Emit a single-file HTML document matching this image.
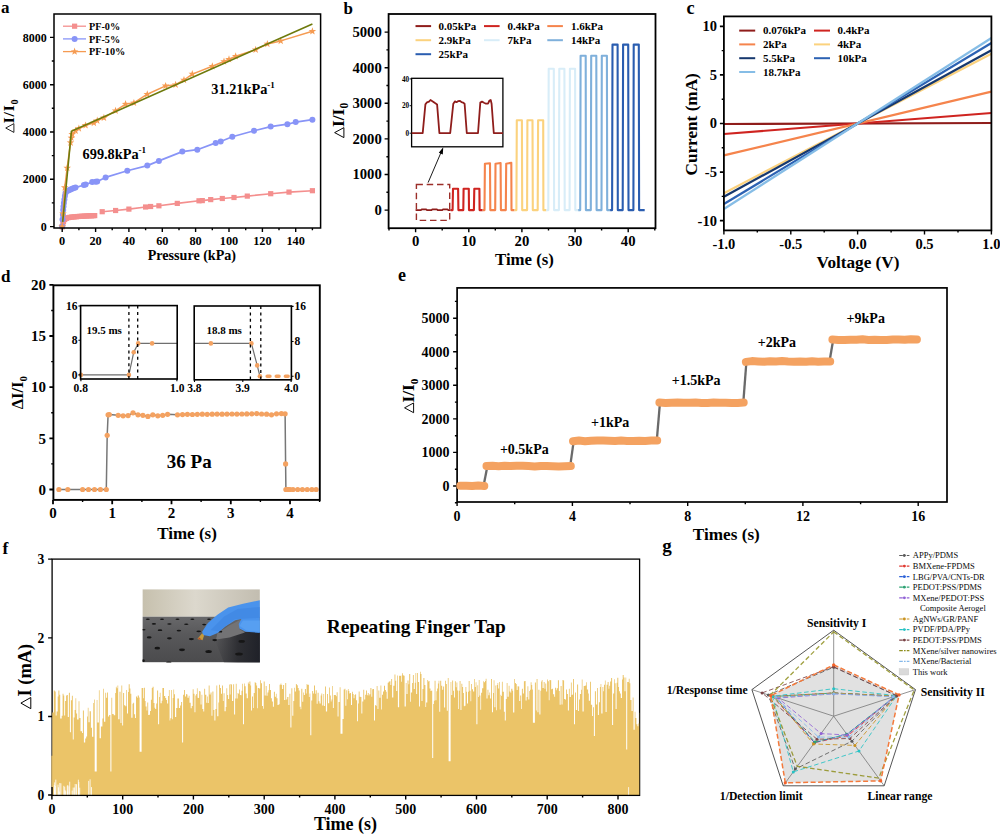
<!DOCTYPE html>
<html><head><meta charset="utf-8"><title>Figure</title><style>html,body{margin:0;padding:0;background:#fff;font-family:"Liberation Serif",serif}svg{display:block}</style></head><body>
<svg width="1000" height="835" viewBox="0 0 1000 835" font-family="Liberation Serif, serif">
<rect width="1000" height="835" fill="#fff"/>
<text x="1.0" y="12.5" font-size="17" font-weight="bold" text-anchor="start" fill="#000" >a</text>
<path d="M62.2 226.6L62.9 223.8L63.5 221.4L64.7 219.5L66.4 218.3L68.0 217.7L69.7 217.4L71.4 217.1L73.0 217.0L74.7 216.8L76.4 216.7L78.0 216.5L79.7 216.4L81.4 216.3L83.0 216.2L84.7 216.1L86.4 216.0L88.1 215.9L89.7 215.8L91.4 215.8L93.1 215.7L94.7 215.6" stroke="#f48f8e" stroke-width="1.6" fill="none" stroke-linejoin="round" />
<path d="M102.2 211.7L115.6 210.5L128.9 209.1L145.6 207.0L150.6 206.5L158.9 205.8L177.3 203.4L199.0 200.8L202.3 200.6L210.7 199.6L222.3 198.5L234.0 197.5L247.3 196.1L270.7 193.7L289.0 192.1L312.4 190.7" stroke="#f48f8e" stroke-width="1.6" fill="none" stroke-linejoin="round" />
<rect x="59.6" y="224.0" width="5.2" height="5.2" fill="#f48f8e"/>
<rect x="60.3" y="221.2" width="5.2" height="5.2" fill="#f48f8e"/>
<rect x="60.9" y="218.8" width="5.2" height="5.2" fill="#f48f8e"/>
<rect x="62.1" y="216.9" width="5.2" height="5.2" fill="#f48f8e"/>
<rect x="63.8" y="215.7" width="5.2" height="5.2" fill="#f48f8e"/>
<rect x="65.4" y="215.1" width="5.2" height="5.2" fill="#f48f8e"/>
<rect x="67.1" y="214.8" width="5.2" height="5.2" fill="#f48f8e"/>
<rect x="68.8" y="214.5" width="5.2" height="5.2" fill="#f48f8e"/>
<rect x="70.4" y="214.4" width="5.2" height="5.2" fill="#f48f8e"/>
<rect x="72.1" y="214.2" width="5.2" height="5.2" fill="#f48f8e"/>
<rect x="73.8" y="214.1" width="5.2" height="5.2" fill="#f48f8e"/>
<rect x="75.4" y="213.9" width="5.2" height="5.2" fill="#f48f8e"/>
<rect x="77.1" y="213.8" width="5.2" height="5.2" fill="#f48f8e"/>
<rect x="78.8" y="213.7" width="5.2" height="5.2" fill="#f48f8e"/>
<rect x="80.5" y="213.6" width="5.2" height="5.2" fill="#f48f8e"/>
<rect x="82.1" y="213.5" width="5.2" height="5.2" fill="#f48f8e"/>
<rect x="83.8" y="213.4" width="5.2" height="5.2" fill="#f48f8e"/>
<rect x="85.5" y="213.3" width="5.2" height="5.2" fill="#f48f8e"/>
<rect x="87.1" y="213.2" width="5.2" height="5.2" fill="#f48f8e"/>
<rect x="88.8" y="213.2" width="5.2" height="5.2" fill="#f48f8e"/>
<rect x="90.5" y="213.1" width="5.2" height="5.2" fill="#f48f8e"/>
<rect x="92.1" y="213.0" width="5.2" height="5.2" fill="#f48f8e"/>
<rect x="99.6" y="209.1" width="5.2" height="5.2" fill="#f48f8e"/>
<rect x="113.0" y="207.9" width="5.2" height="5.2" fill="#f48f8e"/>
<rect x="126.3" y="206.5" width="5.2" height="5.2" fill="#f48f8e"/>
<rect x="143.0" y="204.4" width="5.2" height="5.2" fill="#f48f8e"/>
<rect x="148.0" y="203.9" width="5.2" height="5.2" fill="#f48f8e"/>
<rect x="156.3" y="203.2" width="5.2" height="5.2" fill="#f48f8e"/>
<rect x="174.7" y="200.8" width="5.2" height="5.2" fill="#f48f8e"/>
<rect x="196.4" y="198.2" width="5.2" height="5.2" fill="#f48f8e"/>
<rect x="199.7" y="198.0" width="5.2" height="5.2" fill="#f48f8e"/>
<rect x="208.1" y="197.0" width="5.2" height="5.2" fill="#f48f8e"/>
<rect x="219.7" y="195.9" width="5.2" height="5.2" fill="#f48f8e"/>
<rect x="231.4" y="194.9" width="5.2" height="5.2" fill="#f48f8e"/>
<rect x="244.7" y="193.5" width="5.2" height="5.2" fill="#f48f8e"/>
<rect x="268.1" y="191.1" width="5.2" height="5.2" fill="#f48f8e"/>
<rect x="286.4" y="189.5" width="5.2" height="5.2" fill="#f48f8e"/>
<rect x="309.8" y="188.1" width="5.2" height="5.2" fill="#f48f8e"/>
<path d="M62.2 226.6L62.5 219.5L62.9 214.8L63.2 210.0L63.5 206.5L63.9 202.9L64.4 199.4L64.9 195.9L65.5 193.0L67.2 191.1L68.9 190.2L70.5 189.5L72.2 188.8L73.9 188.1L75.5 187.6L83.9 185.0L85.6 184.5L92.2 182.1L95.6 181.7L97.2 181.4L105.6 177.4L127.3 170.8L147.3 165.6L158.9 160.9L182.3 151.6L197.3 149.7L215.7 142.9L220.7 141.5L232.3 136.7L254.0 130.8L270.7 126.6L287.4 124.2L295.7 122.1L312.4 119.7" stroke="#8894f7" stroke-width="1.7" fill="none" stroke-linejoin="round" />
<circle cx="62.2" cy="226.6" r="3" fill="#8894f7"/>
<circle cx="62.5" cy="219.5" r="3" fill="#8894f7"/>
<circle cx="62.9" cy="214.8" r="3" fill="#8894f7"/>
<circle cx="63.2" cy="210.0" r="3" fill="#8894f7"/>
<circle cx="63.5" cy="206.5" r="3" fill="#8894f7"/>
<circle cx="63.9" cy="202.9" r="3" fill="#8894f7"/>
<circle cx="64.4" cy="199.4" r="3" fill="#8894f7"/>
<circle cx="64.9" cy="195.9" r="3" fill="#8894f7"/>
<circle cx="65.5" cy="193.0" r="3" fill="#8894f7"/>
<circle cx="67.2" cy="191.1" r="3" fill="#8894f7"/>
<circle cx="68.9" cy="190.2" r="3" fill="#8894f7"/>
<circle cx="70.5" cy="189.5" r="3" fill="#8894f7"/>
<circle cx="72.2" cy="188.8" r="3" fill="#8894f7"/>
<circle cx="73.9" cy="188.1" r="3" fill="#8894f7"/>
<circle cx="75.5" cy="187.6" r="3" fill="#8894f7"/>
<circle cx="83.9" cy="185.0" r="3" fill="#8894f7"/>
<circle cx="85.6" cy="184.5" r="3" fill="#8894f7"/>
<circle cx="92.2" cy="182.1" r="3" fill="#8894f7"/>
<circle cx="95.6" cy="181.7" r="3" fill="#8894f7"/>
<circle cx="97.2" cy="181.4" r="3" fill="#8894f7"/>
<circle cx="105.6" cy="177.4" r="3" fill="#8894f7"/>
<circle cx="127.3" cy="170.8" r="3" fill="#8894f7"/>
<circle cx="147.3" cy="165.6" r="3" fill="#8894f7"/>
<circle cx="158.9" cy="160.9" r="3" fill="#8894f7"/>
<circle cx="182.3" cy="151.6" r="3" fill="#8894f7"/>
<circle cx="197.3" cy="149.7" r="3" fill="#8894f7"/>
<circle cx="215.7" cy="142.9" r="3" fill="#8894f7"/>
<circle cx="220.7" cy="141.5" r="3" fill="#8894f7"/>
<circle cx="232.3" cy="136.7" r="3" fill="#8894f7"/>
<circle cx="254.0" cy="130.8" r="3" fill="#8894f7"/>
<circle cx="270.7" cy="126.6" r="3" fill="#8894f7"/>
<circle cx="287.4" cy="124.2" r="3" fill="#8894f7"/>
<circle cx="295.7" cy="122.1" r="3" fill="#8894f7"/>
<circle cx="312.4" cy="119.7" r="3" fill="#8894f7"/>
<path d="M62.2 226.6L63.0 213.6L64.7 187.6L67.2 167.9L70.5 142.6L71.4 137.9L72.2 134.4L75.5 130.8L78.9 128.5L85.6 125.4L93.9 123.0L97.2 120.6L103.9 117.8L115.6 110.7L125.6 104.1L133.9 102.9L147.3 94.2L165.6 85.9L175.6 84.7L184.0 80.0L192.3 74.1L212.3 66.3L224.0 61.5L229.0 59.2L235.7 56.3L255.7 49.7L267.4 44.0L280.7 40.9L312.4 31.3" stroke="#f59b52" stroke-width="1.5" fill="none" stroke-linejoin="round" />
<polygon points="62.2,222.6 63.1,225.3 66.0,225.4 63.7,227.1 64.6,229.8 62.2,228.2 59.8,229.8 60.7,227.1 58.4,225.4 61.3,225.3" fill="#f59b52"/>
<polygon points="63.0,209.6 64.0,212.3 66.8,212.4 64.6,214.1 65.4,216.8 63.0,215.2 60.7,216.8 61.5,214.1 59.2,212.4 62.1,212.3" fill="#f59b52"/>
<polygon points="64.7,183.6 65.6,186.3 68.5,186.3 66.2,188.1 67.1,190.8 64.7,189.2 62.4,190.8 63.2,188.1 60.9,186.3 63.8,186.3" fill="#f59b52"/>
<polygon points="67.2,163.9 68.1,166.7 71.0,166.7 68.7,168.4 69.6,171.2 67.2,169.5 64.9,171.2 65.7,168.4 63.4,166.7 66.3,166.7" fill="#f59b52"/>
<polygon points="70.5,138.6 71.5,141.3 74.3,141.4 72.1,143.1 72.9,145.9 70.5,144.2 68.2,145.9 69.0,143.1 66.7,141.4 69.6,141.3" fill="#f59b52"/>
<polygon points="71.4,133.9 72.3,136.6 75.2,136.7 72.9,138.4 73.7,141.1 71.4,139.5 69.0,141.1 69.9,138.4 67.6,136.7 70.4,136.6" fill="#f59b52"/>
<polygon points="72.2,130.4 73.1,133.1 76.0,133.1 73.7,134.9 74.6,137.6 72.2,136.0 69.9,137.6 70.7,134.9 68.4,133.1 71.3,133.1" fill="#f59b52"/>
<polygon points="75.5,126.8 76.5,129.5 79.3,129.6 77.1,131.3 77.9,134.1 75.5,132.4 73.2,134.1 74.0,131.3 71.7,129.6 74.6,129.5" fill="#f59b52"/>
<polygon points="78.9,124.5 79.8,127.2 82.7,127.2 80.4,128.9 81.2,131.7 78.9,130.1 76.5,131.7 77.4,128.9 75.1,127.2 77.9,127.2" fill="#f59b52"/>
<polygon points="85.6,121.4 86.5,124.1 89.4,124.1 87.1,125.9 87.9,128.6 85.6,127.0 83.2,128.6 84.0,125.9 81.7,124.1 84.6,124.1" fill="#f59b52"/>
<polygon points="93.9,119.0 94.8,121.7 97.7,121.8 95.4,123.5 96.2,126.2 93.9,124.6 91.5,126.2 92.4,123.5 90.1,121.8 93.0,121.7" fill="#f59b52"/>
<polygon points="97.2,116.6 98.2,119.4 101.0,119.4 98.7,121.1 99.6,123.9 97.2,122.2 94.9,123.9 95.7,121.1 93.4,119.4 96.3,119.4" fill="#f59b52"/>
<polygon points="103.9,113.8 104.8,116.5 107.7,116.6 105.4,118.3 106.3,121.0 103.9,119.4 101.5,121.0 102.4,118.3 100.1,116.6 103.0,116.5" fill="#f59b52"/>
<polygon points="115.6,106.7 116.5,109.4 119.4,109.5 117.1,111.2 117.9,114.0 115.6,112.3 113.2,114.0 114.1,111.2 111.8,109.5 114.6,109.4" fill="#f59b52"/>
<polygon points="125.6,100.1 126.5,102.8 129.4,102.9 127.1,104.6 127.9,107.3 125.6,105.7 123.2,107.3 124.1,104.6 121.8,102.9 124.6,102.8" fill="#f59b52"/>
<polygon points="133.9,98.9 134.9,101.6 137.7,101.7 135.4,103.4 136.3,106.1 133.9,104.5 131.6,106.1 132.4,103.4 130.1,101.7 133.0,101.6" fill="#f59b52"/>
<polygon points="147.3,90.2 148.2,92.9 151.1,92.9 148.8,94.7 149.6,97.4 147.3,95.8 144.9,97.4 145.7,94.7 143.5,92.9 146.3,92.9" fill="#f59b52"/>
<polygon points="165.6,81.9 166.6,84.6 169.4,84.6 167.1,86.4 168.0,89.1 165.6,87.5 163.3,89.1 164.1,86.4 161.8,84.6 164.7,84.6" fill="#f59b52"/>
<polygon points="175.6,80.7 176.6,83.4 179.4,83.5 177.1,85.2 178.0,87.9 175.6,86.3 173.3,87.9 174.1,85.2 171.8,83.5 174.7,83.4" fill="#f59b52"/>
<polygon points="184.0,76.0 184.9,78.7 187.8,78.7 185.5,80.5 186.3,83.2 184.0,81.6 181.6,83.2 182.4,80.5 180.2,78.7 183.0,78.7" fill="#f59b52"/>
<polygon points="192.3,70.1 193.2,72.8 196.1,72.8 193.8,74.6 194.7,77.3 192.3,75.7 190.0,77.3 190.8,74.6 188.5,72.8 191.4,72.8" fill="#f59b52"/>
<polygon points="212.3,62.3 213.3,65.0 216.1,65.0 213.8,66.7 214.7,69.5 212.3,67.9 210.0,69.5 210.8,66.7 208.5,65.0 211.4,65.0" fill="#f59b52"/>
<polygon points="224.0,57.5 224.9,60.2 227.8,60.3 225.5,62.0 226.3,64.8 224.0,63.1 221.6,64.8 222.5,62.0 220.2,60.3 223.1,60.2" fill="#f59b52"/>
<polygon points="229.0,55.2 229.9,57.9 232.8,57.9 230.5,59.7 231.4,62.4 229.0,60.8 226.6,62.4 227.5,59.7 225.2,57.9 228.1,57.9" fill="#f59b52"/>
<polygon points="235.7,52.3 236.6,55.0 239.5,55.1 237.2,56.8 238.0,59.6 235.7,57.9 233.3,59.6 234.2,56.8 231.9,55.1 234.7,55.0" fill="#f59b52"/>
<polygon points="255.7,45.7 256.6,48.4 259.5,48.5 257.2,50.2 258.0,52.9 255.7,51.3 253.3,52.9 254.2,50.2 251.9,48.5 254.7,48.4" fill="#f59b52"/>
<polygon points="267.4,40.0 268.3,42.7 271.2,42.8 268.9,44.5 269.7,47.3 267.4,45.6 265.0,47.3 265.8,44.5 263.6,42.8 266.4,42.7" fill="#f59b52"/>
<polygon points="280.7,36.9 281.6,39.7 284.5,39.7 282.2,41.4 283.1,44.2 280.7,42.5 278.4,44.2 279.2,41.4 276.9,39.7 279.8,39.7" fill="#f59b52"/>
<polygon points="312.4,27.3 313.3,30.0 316.2,30.0 313.9,31.7 314.8,34.5 312.4,32.9 310.0,34.5 310.9,31.7 308.6,30.0 311.5,30.0" fill="#f59b52"/>
<path d="M62.7 221.9L71.4 131.3L312.4 23.9" stroke="#6e7a0c" stroke-width="1.6" fill="none" stroke-linejoin="round" />
<rect x="54.0" y="14.0" width="266.6" height="214.0" fill="none" stroke="#000" stroke-width="1.5"/>
<path d="M54.0 226.6h-4M54.0 179.3h-4M54.0 132.0h-4M54.0 84.7h-4M54.0 37.4h-4" stroke="#000" stroke-width="1.4" fill="none"/>
<path d="M54.0 202.9h-2.2M54.0 155.6h-2.2M54.0 108.3h-2.2M54.0 61.0h-2.2" stroke="#000" stroke-width="1.4" fill="none"/>
<path d="M62.2 228.0v4M95.6 228.0v4M128.9 228.0v4M162.3 228.0v4M195.6 228.0v4M229.0 228.0v4M262.4 228.0v4M295.7 228.0v4" stroke="#000" stroke-width="1.4" fill="none"/>
<path d="M78.9 228.0v2.2M112.2 228.0v2.2M145.6 228.0v2.2M179.0 228.0v2.2M212.3 228.0v2.2M245.7 228.0v2.2M279.0 228.0v2.2M312.4 228.0v2.2" stroke="#000" stroke-width="1.4" fill="none"/>
<text x="46.7" y="230.7" font-size="12" font-weight="bold" text-anchor="end" fill="#000" >0</text>
<text x="46.7" y="183.4" font-size="12" font-weight="bold" text-anchor="end" fill="#000" >2000</text>
<text x="46.7" y="136.1" font-size="12" font-weight="bold" text-anchor="end" fill="#000" >4000</text>
<text x="46.7" y="88.8" font-size="12" font-weight="bold" text-anchor="end" fill="#000" >6000</text>
<text x="46.7" y="41.5" font-size="12" font-weight="bold" text-anchor="end" fill="#000" >8000</text>
<text x="62.2" y="244.6" font-size="12.3" font-weight="bold" text-anchor="middle" fill="#000" >0</text>
<text x="95.6" y="244.6" font-size="12.3" font-weight="bold" text-anchor="middle" fill="#000" >20</text>
<text x="128.9" y="244.6" font-size="12.3" font-weight="bold" text-anchor="middle" fill="#000" >40</text>
<text x="162.3" y="244.6" font-size="12.3" font-weight="bold" text-anchor="middle" fill="#000" >60</text>
<text x="195.6" y="244.6" font-size="12.3" font-weight="bold" text-anchor="middle" fill="#000" >80</text>
<text x="229.0" y="244.6" font-size="12.3" font-weight="bold" text-anchor="middle" fill="#000" >100</text>
<text x="262.4" y="244.6" font-size="12.3" font-weight="bold" text-anchor="middle" fill="#000" >120</text>
<text x="295.7" y="244.6" font-size="12.3" font-weight="bold" text-anchor="middle" fill="#000" >140</text>
<text x="191.9" y="259.8" font-size="14.1" font-weight="bold" text-anchor="middle" fill="#000" >Pressure (kPa)</text>
<g transform="translate(14.4,133.0) rotate(-90)">
<path d="M0.6 -0.5L4.98 -8.66L9.36 -0.5Z" fill="none" stroke="#000" stroke-width="0.86"/>
<text x="9.83" y="0" font-size="15.6" font-weight="bold" letter-spacing="0.7">I/I<tspan font-size="10.14" dy="3.43">0</tspan></text>
</g>
<path d="M63 26.2H86" stroke="#f48f8e" stroke-width="1.3"/>
<rect x="72" y="23.6" width="5.2" height="5.2" fill="#f48f8e"/>
<text x="89.0" y="29.8" font-size="10.2" font-weight="bold" text-anchor="start" fill="#000" >PF-0%</text>
<path d="M63 38.9H86" stroke="#8894f7" stroke-width="1.3"/>
<circle cx="74.6" cy="38.9" r="3" fill="#8894f7"/>
<text x="89.0" y="42.5" font-size="10.2" font-weight="bold" text-anchor="start" fill="#000" >PF-5%</text>
<path d="M63 51.6H86" stroke="#f59b52" stroke-width="1.3"/>
<polygon points="74.6,47.6 75.5,50.3 78.4,50.4 76.1,52.1 77.0,54.8 74.6,53.2 72.2,54.8 73.1,52.1 70.8,50.4 73.7,50.3" fill="#f59b52"/>
<text x="89.0" y="55.2" font-size="10.2" font-weight="bold" text-anchor="start" fill="#000" >PF-10%</text>
<text x="211.3" y="93.6" font-size="14.3" font-weight="bold">31.21kPa<tspan font-size="9" dy="-6">-1</tspan></text>
<text x="82.6" y="158.5" font-size="14.3" font-weight="bold">699.8kPa<tspan font-size="9" dy="-6">-1</tspan></text>
<text x="343.5" y="14.0" font-size="17" font-weight="bold" text-anchor="start" fill="#000" >b</text>
<path d="M415.6 210.1L420.9 210.1L421.7 209.3L426.2 209.3L427.0 210.1L431.5 210.1L432.3 209.3L436.9 209.3L437.7 210.1L442.2 210.1L443.0 209.3L447.5 209.3L448.3 210.1L450.7 210.1" stroke="#8f1d1b" stroke-width="1.7" fill="none" stroke-linejoin="round" />
<path d="M450.7 210.1L452.6 210.1L453.0 188.8L458.1 188.8L458.4 210.1L463.3 210.1L463.6 188.8L468.8 188.8L469.0 210.1L473.9 210.1L474.3 188.8L479.4 188.8L479.6 210.1L482.6 210.1" stroke="#cf2420" stroke-width="2.1" fill="none" stroke-linejoin="round" />
<path d="M482.6 210.1L484.5 210.1L484.9 163.7L490.0 163.2L490.3 210.1L495.2 210.1L495.5 163.7L500.6 163.0L500.9 210.1L505.8 210.1L506.2 163.7L511.3 162.8L511.5 210.1L514.5 210.1" stroke="#f5844c" stroke-width="2.1" fill="none" stroke-linejoin="round" />
<path d="M514.5 210.1L516.4 210.1L516.8 120.2L521.9 120.2L522.2 210.1L527.1 210.1L527.4 120.2L532.5 120.2L532.8 210.1L537.7 210.1L538.1 120.2L543.2 120.2L543.4 210.1L546.3 210.1" stroke="#fbd27e" stroke-width="2.1" fill="none" stroke-linejoin="round" />
<path d="M546.3 210.1L548.3 210.1L548.7 68.8L553.8 68.8L554.1 210.1L558.9 210.1L559.3 68.8L564.4 68.8L564.7 210.1L569.6 210.1L569.9 68.8L575.1 68.8L575.3 210.1L578.2 210.1" stroke="#d8edf8" stroke-width="2.1" fill="none" stroke-linejoin="round" />
<path d="M578.2 210.1L580.2 210.1L580.6 55.8L585.7 55.8L585.9 210.1L590.8 210.1L591.2 55.8L596.3 55.8L596.6 210.1L601.5 210.1L601.8 55.8L606.9 55.8L607.2 210.1L610.1 210.1" stroke="#7fb0db" stroke-width="2.1" fill="none" stroke-linejoin="round" />
<path d="M610.1 210.1L612.1 210.1L612.5 44.6L617.6 44.6L617.8 210.1L622.7 210.1L623.1 44.6L628.2 44.6L628.5 210.1L633.4 210.1L633.7 44.6L638.8 44.6L639.1 210.1L644.7 210.1" stroke="#2a5db0" stroke-width="2.1" fill="none" stroke-linejoin="round" />
<rect x="416.4" y="184.5" width="33.3" height="35.9" fill="none" stroke="#9c2f2a" stroke-width="1.4" stroke-dasharray="6.5 3.8"/>
<path d="M428.1 182.6L442 150.2" stroke="#000" stroke-width="0.9" fill="none"/>
<path d="M443.2 147.3L442.8 154.4L438.8 152.7Z" fill="#000"/>
<rect x="411.6" y="78.3" width="91.3" height="68.5" fill="#fff" stroke="#000" stroke-width="1.3"/>
<path d="M411.6 133.2L422.7 133.2L425.4 104.4L427.0 102.3L429.0 101.6L430.5 100.0L432.0 100.9L433.5 101.9L435.0 103.0L437.1 104.4L439.4 133.2L450.2 133.2L453.3 103.7L455.0 101.4L456.5 102.2L458.0 101.2L460.0 100.8L461.5 102.2L463.0 102.6L464.6 103.7L466.8 133.2L478.0 133.2L480.3 102.6L482.0 101.6L484.0 102.7L486.0 103.7L488.0 103.6L489.5 100.5L490.7 100.0L491.6 103.7L493.8 133.2L502.9 133.2" stroke="#8f1d1b" stroke-width="1.8" fill="none" stroke-linejoin="round" />
<path d="M411.6 133.2h-2M411.6 105.7h-2M411.6 78.9h-2" stroke="#000" stroke-width="0.9" fill="none"/>
<text x="409.2" y="135.6" font-size="7.2" font-weight="bold" text-anchor="end" fill="#000" >0</text>
<text x="409.2" y="108.1" font-size="7.2" font-weight="bold" text-anchor="end" fill="#000" >20</text>
<text x="409.2" y="81.9" font-size="7.2" font-weight="bold" text-anchor="end" fill="#000" >40</text>
<rect x="388.6" y="14.0" width="266.9" height="214.2" fill="none" stroke="#000" stroke-width="1.8"/>
<path d="M388.6 210.1h-4M388.6 174.5h-4M388.6 138.9h-4M388.6 103.3h-4M388.6 67.7h-4M388.6 32.1h-4" stroke="#000" stroke-width="1.4" fill="none"/>
<path d="M388.6 192.3h-2.2M388.6 156.7h-2.2M388.6 121.1h-2.2M388.6 85.5h-2.2M388.6 49.9h-2.2" stroke="#000" stroke-width="1.4" fill="none"/>
<path d="M415.6 228.2v4M468.8 228.2v4M521.9 228.2v4M575.1 228.2v4M628.2 228.2v4" stroke="#000" stroke-width="1.4" fill="none"/>
<path d="M389.0 228.2v2.2M442.2 228.2v2.2M495.3 228.2v2.2M548.5 228.2v2.2M601.6 228.2v2.2M654.8 228.2v2.2" stroke="#000" stroke-width="1.4" fill="none"/>
<text x="381.8" y="215.0" font-size="14.7" font-weight="bold" text-anchor="end" fill="#000" >0</text>
<text x="381.8" y="179.4" font-size="14.7" font-weight="bold" text-anchor="end" fill="#000" >1000</text>
<text x="381.8" y="143.8" font-size="14.7" font-weight="bold" text-anchor="end" fill="#000" >2000</text>
<text x="381.8" y="108.2" font-size="14.7" font-weight="bold" text-anchor="end" fill="#000" >3000</text>
<text x="381.8" y="72.6" font-size="14.7" font-weight="bold" text-anchor="end" fill="#000" >4000</text>
<text x="381.8" y="37.0" font-size="14.7" font-weight="bold" text-anchor="end" fill="#000" >5000</text>
<text x="415.6" y="246.4" font-size="14.7" font-weight="bold" text-anchor="middle" fill="#000" >0</text>
<text x="468.8" y="246.4" font-size="14.7" font-weight="bold" text-anchor="middle" fill="#000" >10</text>
<text x="521.9" y="246.4" font-size="14.7" font-weight="bold" text-anchor="middle" fill="#000" >20</text>
<text x="575.1" y="246.4" font-size="14.7" font-weight="bold" text-anchor="middle" fill="#000" >30</text>
<text x="628.2" y="246.4" font-size="14.7" font-weight="bold" text-anchor="middle" fill="#000" >40</text>
<text x="524.5" y="264.8" font-size="16.8" font-weight="bold" text-anchor="middle" fill="#000" >Time (s)</text>
<g transform="translate(344.4,138.2) rotate(-90)">
<path d="M0.6 -0.5L5.58 -9.77L10.56 -0.5Z" fill="none" stroke="#000" stroke-width="0.97"/>
<text x="11.09" y="0" font-size="17.6" font-weight="bold" letter-spacing="0">I/I<tspan font-size="11.44" dy="3.87">0</tspan></text>
</g>
<path d="M415.5 26.1h15.6" stroke="#8f1d1b" stroke-width="2"/>
<text x="438.6" y="29.8" font-size="11" font-weight="bold" text-anchor="start" fill="#000" >0.05kPa</text>
<path d="M484 26.1h15.6" stroke="#cf2420" stroke-width="2"/>
<text x="507.6" y="29.8" font-size="11" font-weight="bold" text-anchor="start" fill="#000" >0.4kPa</text>
<path d="M547.3 26.1h15.6" stroke="#f5844c" stroke-width="2"/>
<text x="571.0" y="29.8" font-size="11" font-weight="bold" text-anchor="start" fill="#000" >1.6kPa</text>
<path d="M415.5 40.2h15.6" stroke="#fbd27e" stroke-width="2"/>
<text x="438.6" y="43.9" font-size="11" font-weight="bold" text-anchor="start" fill="#000" >2.9kPa</text>
<path d="M484 40.2h15.6" stroke="#d8edf8" stroke-width="2"/>
<text x="507.6" y="43.9" font-size="11" font-weight="bold" text-anchor="start" fill="#000" >7kPa</text>
<path d="M547.3 40.2h15.6" stroke="#7fb0db" stroke-width="2"/>
<text x="571.0" y="43.9" font-size="11" font-weight="bold" text-anchor="start" fill="#000" >14kPa</text>
<path d="M415.5 54.2h15.6" stroke="#2a5db0" stroke-width="2"/>
<text x="438.6" y="57.9" font-size="11" font-weight="bold" text-anchor="start" fill="#000" >25kPa</text>
<text x="686.6" y="13.8" font-size="18.2" font-weight="bold" text-anchor="start" fill="#000" >c</text>
<path d="M723.9 124.0L991.4 123.0" stroke="#8f1d1b" stroke-width="2.2"/>
<path d="M723.9 134.0L991.4 113.0" stroke="#cf2420" stroke-width="2.2"/>
<path d="M723.9 155.4L991.4 91.6" stroke="#f5844c" stroke-width="2.2"/>
<path d="M723.9 193.2L991.4 53.8" stroke="#fbd27e" stroke-width="2.2"/>
<path d="M723.9 196.8L991.4 50.2" stroke="#16386e" stroke-width="2.2"/>
<path d="M723.9 204.0L991.4 43.0" stroke="#2c62b3" stroke-width="2.2"/>
<path d="M723.9 209.0L991.4 38.0" stroke="#86bde6" stroke-width="2.2"/>
<rect x="723.9" y="16.4" width="267.5" height="214.0" fill="none" stroke="#000" stroke-width="1.8"/>
<path d="M723.9 220.7h-4M723.9 172.1h-4M723.9 123.5h-4M723.9 74.9h-4M723.9 26.3h-4" stroke="#000" stroke-width="1.7" fill="none"/>
<path d="M723.9 196.4h-2.2M723.9 147.8h-2.2M723.9 99.2h-2.2M723.9 50.6h-2.2" stroke="#000" stroke-width="1.4" fill="none"/>
<path d="M723.9 230.4v4M790.8 230.4v4M857.6 230.4v4M924.5 230.4v4M991.4 230.4v4" stroke="#000" stroke-width="1.4" fill="none"/>
<path d="M757.3 230.4v2.2M824.2 230.4v2.2M891.1 230.4v2.2M958.0 230.4v2.2" stroke="#000" stroke-width="1.4" fill="none"/>
<text x="716.9" y="225.6" font-size="14.5" font-weight="bold" text-anchor="end" fill="#000" >-10</text>
<text x="716.9" y="177.0" font-size="14.5" font-weight="bold" text-anchor="end" fill="#000" >-5</text>
<text x="716.9" y="128.4" font-size="14.5" font-weight="bold" text-anchor="end" fill="#000" >0</text>
<text x="716.9" y="79.8" font-size="14.5" font-weight="bold" text-anchor="end" fill="#000" >5</text>
<text x="716.9" y="31.2" font-size="14.5" font-weight="bold" text-anchor="end" fill="#000" >10</text>
<text x="723.9" y="248.6" font-size="14.5" font-weight="bold" text-anchor="middle" fill="#000" >-1.0</text>
<text x="790.8" y="248.6" font-size="14.5" font-weight="bold" text-anchor="middle" fill="#000" >-0.5</text>
<text x="857.6" y="248.6" font-size="14.5" font-weight="bold" text-anchor="middle" fill="#000" >0.0</text>
<text x="924.5" y="248.6" font-size="14.5" font-weight="bold" text-anchor="middle" fill="#000" >0.5</text>
<text x="991.4" y="248.6" font-size="14.5" font-weight="bold" text-anchor="middle" fill="#000" >1.0</text>
<text x="858.0" y="268.0" font-size="17.2" font-weight="bold" text-anchor="middle" fill="#000" >Voltage (V)</text>
<text transform="translate(697.2,175.5) rotate(-90)" font-size="17.2" font-weight="bold">Current (mA)</text>
<path d="M739.2 30.6h16" stroke="#8f1d1b" stroke-width="2"/>
<text x="763.0" y="34.3" font-size="11" font-weight="bold" text-anchor="start" fill="#000" >0.076kPa</text>
<path d="M814 30.6h16" stroke="#cf2420" stroke-width="2"/>
<text x="837.4" y="34.3" font-size="11" font-weight="bold" text-anchor="start" fill="#000" >0.4kPa</text>
<path d="M739.2 44.4h16" stroke="#f5844c" stroke-width="2"/>
<text x="763.0" y="48.1" font-size="11" font-weight="bold" text-anchor="start" fill="#000" >2kPa</text>
<path d="M814 44.4h16" stroke="#fbd27e" stroke-width="2"/>
<text x="837.4" y="48.1" font-size="11" font-weight="bold" text-anchor="start" fill="#000" >4kPa</text>
<path d="M739.2 58.2h16" stroke="#16386e" stroke-width="2"/>
<text x="763.0" y="61.9" font-size="11" font-weight="bold" text-anchor="start" fill="#000" >5.5kPa</text>
<path d="M814 58.2h16" stroke="#2c62b3" stroke-width="2"/>
<text x="837.4" y="61.9" font-size="11" font-weight="bold" text-anchor="start" fill="#000" >10kPa</text>
<path d="M739.2 72.0h16" stroke="#86bde6" stroke-width="2"/>
<text x="763.0" y="75.7" font-size="11" font-weight="bold" text-anchor="start" fill="#000" >18.7kPa</text>
<text x="1.0" y="281.5" font-size="17" font-weight="bold" text-anchor="start" fill="#000" >d</text>
<path d="M58.9 489.5L67.8 489.5L82.6 489.5L88.5 489.5L94.5 489.5L100.4 489.5L106.3 489.5L107.2 435.3L108.1 414.8L109.3 414.6L118.2 415.3L123.1 415.8L128.1 415.6L133.0 412.8L138.0 414.8L142.9 415.3L147.9 416.4L152.8 414.8L157.8 415.8L162.7 415.3L167.6 414.3L177.5 414.8L182.5 414.6L187.4 414.3L192.4 414.5L197.3 414.3L202.3 414.2L207.2 414.3L212.2 414.2L217.1 414.1L222.1 414.2L227.0 414.1L232.0 414.0L236.9 414.1L241.9 414.0L246.8 413.9L251.8 413.8L256.7 413.6L261.6 414.0L266.6 414.2L271.5 414.8L276.5 413.8L281.4 413.6L285.1 413.8L285.6 463.9L285.9 489.5L287.0 489.5L288.2 489.5L290.0 489.5L293.0 489.5L297.7 489.5L302.4 489.5L307.2 489.5L311.9 489.5L316.1 489.5" stroke="#777" stroke-width="1.5" fill="none" stroke-linejoin="round" />
<circle cx="58.9" cy="489.5" r="2.6" fill="#f4a261"/>
<circle cx="67.8" cy="489.5" r="2.6" fill="#f4a261"/>
<circle cx="82.6" cy="489.5" r="2.6" fill="#f4a261"/>
<circle cx="88.5" cy="489.5" r="2.6" fill="#f4a261"/>
<circle cx="94.5" cy="489.5" r="2.6" fill="#f4a261"/>
<circle cx="100.4" cy="489.5" r="2.6" fill="#f4a261"/>
<circle cx="106.3" cy="489.5" r="2.6" fill="#f4a261"/>
<circle cx="107.2" cy="435.3" r="2.6" fill="#f4a261"/>
<circle cx="108.1" cy="414.8" r="2.6" fill="#f4a261"/>
<circle cx="109.3" cy="414.6" r="2.6" fill="#f4a261"/>
<circle cx="118.2" cy="415.3" r="2.6" fill="#f4a261"/>
<circle cx="123.1" cy="415.8" r="2.6" fill="#f4a261"/>
<circle cx="128.1" cy="415.6" r="2.6" fill="#f4a261"/>
<circle cx="133.0" cy="412.8" r="2.6" fill="#f4a261"/>
<circle cx="138.0" cy="414.8" r="2.6" fill="#f4a261"/>
<circle cx="142.9" cy="415.3" r="2.6" fill="#f4a261"/>
<circle cx="147.9" cy="416.4" r="2.6" fill="#f4a261"/>
<circle cx="152.8" cy="414.8" r="2.6" fill="#f4a261"/>
<circle cx="157.8" cy="415.8" r="2.6" fill="#f4a261"/>
<circle cx="162.7" cy="415.3" r="2.6" fill="#f4a261"/>
<circle cx="167.6" cy="414.3" r="2.6" fill="#f4a261"/>
<circle cx="177.5" cy="414.8" r="2.6" fill="#f4a261"/>
<circle cx="182.5" cy="414.6" r="2.6" fill="#f4a261"/>
<circle cx="187.4" cy="414.3" r="2.6" fill="#f4a261"/>
<circle cx="192.4" cy="414.5" r="2.6" fill="#f4a261"/>
<circle cx="197.3" cy="414.3" r="2.6" fill="#f4a261"/>
<circle cx="202.3" cy="414.2" r="2.6" fill="#f4a261"/>
<circle cx="207.2" cy="414.3" r="2.6" fill="#f4a261"/>
<circle cx="212.2" cy="414.2" r="2.6" fill="#f4a261"/>
<circle cx="217.1" cy="414.1" r="2.6" fill="#f4a261"/>
<circle cx="222.1" cy="414.2" r="2.6" fill="#f4a261"/>
<circle cx="227.0" cy="414.1" r="2.6" fill="#f4a261"/>
<circle cx="232.0" cy="414.0" r="2.6" fill="#f4a261"/>
<circle cx="236.9" cy="414.1" r="2.6" fill="#f4a261"/>
<circle cx="241.9" cy="414.0" r="2.6" fill="#f4a261"/>
<circle cx="246.8" cy="413.9" r="2.6" fill="#f4a261"/>
<circle cx="251.8" cy="413.8" r="2.6" fill="#f4a261"/>
<circle cx="256.7" cy="413.6" r="2.6" fill="#f4a261"/>
<circle cx="261.6" cy="414.0" r="2.6" fill="#f4a261"/>
<circle cx="266.6" cy="414.2" r="2.6" fill="#f4a261"/>
<circle cx="271.5" cy="414.8" r="2.6" fill="#f4a261"/>
<circle cx="276.5" cy="413.8" r="2.6" fill="#f4a261"/>
<circle cx="281.4" cy="413.6" r="2.6" fill="#f4a261"/>
<circle cx="285.1" cy="413.8" r="2.6" fill="#f4a261"/>
<circle cx="285.6" cy="463.9" r="2.6" fill="#f4a261"/>
<circle cx="285.9" cy="489.5" r="2.6" fill="#f4a261"/>
<circle cx="287.0" cy="489.5" r="2.6" fill="#f4a261"/>
<circle cx="288.2" cy="489.5" r="2.6" fill="#f4a261"/>
<circle cx="290.0" cy="489.5" r="2.6" fill="#f4a261"/>
<circle cx="293.0" cy="489.5" r="2.6" fill="#f4a261"/>
<circle cx="297.7" cy="489.5" r="2.6" fill="#f4a261"/>
<circle cx="302.4" cy="489.5" r="2.6" fill="#f4a261"/>
<circle cx="307.2" cy="489.5" r="2.6" fill="#f4a261"/>
<circle cx="311.9" cy="489.5" r="2.6" fill="#f4a261"/>
<circle cx="316.1" cy="489.5" r="2.6" fill="#f4a261"/>
<rect x="53.4" y="285.3" width="266.4" height="214.6" fill="none" stroke="#000" stroke-width="1.9"/>
<path d="M53.4 489.5h-4M53.4 438.4h-4M53.4 387.2h-4M53.4 336.0h-4M53.4 284.9h-4" stroke="#000" stroke-width="1.8" fill="none"/>
<path d="M53.4 463.9h-2.2M53.4 412.8h-2.2M53.4 361.6h-2.2M53.4 310.5h-2.2" stroke="#000" stroke-width="1.4" fill="none"/>
<path d="M53.0 499.9v4.4M112.2 499.9v4.4M171.5 499.9v4.4M230.8 499.9v4.4M290.0 499.9v4.4" stroke="#000" stroke-width="1.8" fill="none"/>
<path d="M82.6 499.9v2.2M141.9 499.9v2.2M201.1 499.9v2.2M260.4 499.9v2.2M319.6 499.9v2.2" stroke="#000" stroke-width="1.4" fill="none"/>
<text x="46.0" y="494.7" font-size="15" font-weight="bold" text-anchor="end" fill="#000" >0</text>
<text x="46.0" y="443.6" font-size="15" font-weight="bold" text-anchor="end" fill="#000" >5</text>
<text x="46.0" y="392.4" font-size="15" font-weight="bold" text-anchor="end" fill="#000" >10</text>
<text x="46.0" y="341.2" font-size="15" font-weight="bold" text-anchor="end" fill="#000" >15</text>
<text x="46.0" y="290.1" font-size="15" font-weight="bold" text-anchor="end" fill="#000" >20</text>
<text x="53.0" y="518.0" font-size="15" font-weight="bold" text-anchor="middle" fill="#000" >0</text>
<text x="112.2" y="518.0" font-size="15" font-weight="bold" text-anchor="middle" fill="#000" >1</text>
<text x="171.5" y="518.0" font-size="15" font-weight="bold" text-anchor="middle" fill="#000" >2</text>
<text x="230.8" y="518.0" font-size="15" font-weight="bold" text-anchor="middle" fill="#000" >3</text>
<text x="290.0" y="518.0" font-size="15" font-weight="bold" text-anchor="middle" fill="#000" >4</text>
<text x="187.0" y="538.6" font-size="17" font-weight="bold" text-anchor="middle" fill="#000" >Time (s)</text>
<g transform="translate(23.3,409.3) rotate(-90)">
<text x="0" y="0" font-size="16.5" font-weight="bold">ΔI/I<tspan font-size="10.72" dy="3.63">0</tspan></text>
</g>
<text x="166.8" y="467.5" font-size="19" font-weight="bold" text-anchor="start" fill="#000" >36 Pa</text>
<path d="M80.6 374.9L128.9 374.9L133.7 352.3L138.2 343.4L177.2 343.4" stroke="#6f6f6f" stroke-width="1.2" fill="none" stroke-linejoin="round" />
<circle cx="80.9" cy="374.9" r="2.3" fill="#f4a261"/>
<circle cx="128.9" cy="374.9" r="2.3" fill="#f4a261"/>
<circle cx="133.7" cy="352.3" r="2.3" fill="#f4a261"/>
<circle cx="138.2" cy="343.4" r="2.3" fill="#f4a261"/>
<circle cx="152.1" cy="343.4" r="2.3" fill="#f4a261"/>
<path d="M128.9 305.6V379.0M137.7 305.6V379.0" stroke="#000" stroke-width="1.3" stroke-dasharray="3 3.4"/>
<rect x="80.6" y="305.6" width="96.6" height="73.4" fill="none" stroke="#000" stroke-width="1.6"/>
<path d="M80.6 374.9h-2.2M80.6 340.2h-2.2M80.6 306.0h-2.2" stroke="#000" stroke-width="1.1" fill="none"/>
<path d="M80.9 379.0v2.2M176.9 379.0v2.2" stroke="#000" stroke-width="1.1" fill="none"/>
<text x="77.6" y="378.8" font-size="11.5" font-weight="bold" text-anchor="end" fill="#000" >0</text>
<text x="77.6" y="344.1" font-size="11.5" font-weight="bold" text-anchor="end" fill="#000" >8</text>
<text x="77.6" y="310.0" font-size="11.5" font-weight="bold" text-anchor="end" fill="#000" >16</text>
<text x="80.8" y="391.5" font-size="11.5" font-weight="bold" text-anchor="middle" fill="#000" >0.8</text>
<text x="177.2" y="391.5" font-size="11.5" font-weight="bold" text-anchor="middle" fill="#000" >1.0</text>
<text x="86.4" y="334.4" font-size="11" font-weight="bold" text-anchor="start" fill="#000" >19.5 ms</text>
<path d="M194.2 343.4L251.4 343.4L257.2 365.4L259.9 376.2" stroke="#6f6f6f" stroke-width="1.2" fill="none" stroke-linejoin="round" />
<circle cx="210.9" cy="343.4" r="2.3" fill="#f4a261"/>
<circle cx="251.4" cy="343.4" r="2.3" fill="#f4a261"/>
<circle cx="257.2" cy="365.4" r="2.3" fill="#f4a261"/>
<circle cx="259.9" cy="376.2" r="2.3" fill="#f4a261"/>
<path d="M267.2 376.2H291" stroke="#f4a261" stroke-width="3.6" stroke-dasharray="2.7 6.4" stroke-linecap="round"/>
<path d="M250.4 306.0V379.8M260.8 306.0V379.8" stroke="#000" stroke-width="1.3" stroke-dasharray="3 3.4"/>
<rect x="194.2" y="306.0" width="97.2" height="73.8" fill="none" stroke="#000" stroke-width="1.6"/>
<path d="M291.4 376.2h2.2M291.4 341.5h2.2M291.4 306.4h2.2" stroke="#000" stroke-width="1.1" fill="none"/>
<path d="M194.5 379.8v2.2M242.8 379.8v2.2M291.1 379.8v2.2" stroke="#000" stroke-width="1.1" fill="none"/>
<text x="294.4" y="380.1" font-size="11.5" font-weight="bold" text-anchor="start" fill="#000" >0</text>
<text x="294.4" y="345.4" font-size="11.5" font-weight="bold" text-anchor="start" fill="#000" >8</text>
<text x="294.4" y="310.4" font-size="11.5" font-weight="bold" text-anchor="start" fill="#000" >16</text>
<text x="194.4" y="392.0" font-size="11.5" font-weight="bold" text-anchor="middle" fill="#000" >3.8</text>
<text x="242.6" y="392.0" font-size="11.5" font-weight="bold" text-anchor="middle" fill="#000" >3.9</text>
<text x="291.4" y="392.0" font-size="11.5" font-weight="bold" text-anchor="middle" fill="#000" >4.0</text>
<text x="206.4" y="333.9" font-size="11" font-weight="bold" text-anchor="start" fill="#000" >18.8 ms</text>
<text x="398.0" y="280.8" font-size="18" font-weight="bold" text-anchor="start" fill="#000" >e</text>
<path d="M484.1 483.0L486.8 469.2" stroke="#6a6a6a" stroke-width="2.3"/>
<path d="M570.6 463.2L573.3 443.9" stroke="#6a6a6a" stroke-width="2.3"/>
<path d="M657.0 437.9L659.7 405.8" stroke="#6a6a6a" stroke-width="2.3"/>
<path d="M743.5 399.8L746.2 364.5" stroke="#6a6a6a" stroke-width="2.3"/>
<path d="M830.0 358.5L832.7 342.7" stroke="#6a6a6a" stroke-width="2.3"/>
<rect x="457.1" y="287.9" width="489.9" height="214.1" fill="none" stroke="#000" stroke-width="1.7"/>
<path d="M457.1 486.0h-4M457.1 452.4h-4M457.1 418.9h-4M457.1 385.3h-4M457.1 351.8h-4M457.1 318.2h-4" stroke="#000" stroke-width="1.4" fill="none"/>
<path d="M457.1 502.8h-2.2M457.1 469.2h-2.2M457.1 435.7h-2.2M457.1 402.1h-2.2M457.1 368.5h-2.2M457.1 335.0h-2.2M457.1 301.4h-2.2" stroke="#000" stroke-width="1.4" fill="none"/>
<path d="M457.1 502.0v4M572.4 502.0v4M687.7 502.0v4M802.9 502.0v4M918.2 502.0v4" stroke="#000" stroke-width="1.4" fill="none"/>
<path d="M514.7 502.0v2.2M630.0 502.0v2.2M745.3 502.0v2.2M860.6 502.0v2.2" stroke="#000" stroke-width="1.4" fill="none"/>
<path d="M460.3 485.8L466.3 485.7L472.3 486.1L478.3 485.6L484.3 486.0" stroke="#f4a261" stroke-width="8" fill="none" stroke-linejoin="round" stroke-linecap="round"/>
<path d="M486.5 466.1L492.5 465.8L498.6 466.2L504.6 465.8L510.6 466.1L516.6 465.8L522.6 465.8L528.6 466.1L534.7 466.5L540.7 465.9L546.7 466.0L552.7 466.3L558.7 466.6L564.8 466.3L570.8 466.1" stroke="#f4a261" stroke-width="8" fill="none" stroke-linejoin="round" stroke-linecap="round"/>
<path d="M573.0 441.3L579.0 440.5L585.0 441.2L591.0 440.7L597.1 440.5L603.1 440.5L609.1 440.7L615.1 441.1L621.1 440.6L627.1 440.9L633.2 441.0L639.2 440.7L645.2 440.9L651.2 440.5L657.2 440.5" stroke="#f4a261" stroke-width="8" fill="none" stroke-linejoin="round" stroke-linecap="round"/>
<path d="M659.4 402.5L665.5 402.9L671.5 402.7L677.5 402.6L683.5 402.8L689.5 402.7L695.6 402.6L701.6 403.0L707.6 403.0L713.6 402.5L719.6 402.8L725.6 402.8L731.7 403.1L737.7 403.0L743.7 402.6" stroke="#f4a261" stroke-width="8" fill="none" stroke-linejoin="round" stroke-linecap="round"/>
<path d="M745.9 361.9L751.9 361.1L757.9 361.4L764.0 361.7L770.0 361.2L776.0 361.5L782.0 361.1L788.0 361.6L794.0 361.7L800.1 361.6L806.1 361.8L812.1 361.3L818.1 361.7L824.1 361.6L830.2 361.6" stroke="#f4a261" stroke-width="8" fill="none" stroke-linejoin="round" stroke-linecap="round"/>
<path d="M832.4 339.6L838.4 340.0L844.4 340.1L850.5 339.7L856.5 339.8L862.6 339.3L868.6 339.9L874.6 339.8L880.7 340.1L886.7 340.0L892.8 339.5L898.8 339.6L904.8 339.8L910.9 339.2L916.9 339.6" stroke="#f4a261" stroke-width="8" fill="none" stroke-linejoin="round" stroke-linecap="round"/>
<text x="449.6" y="490.8" font-size="14" font-weight="bold" text-anchor="end" fill="#000" >0</text>
<text x="449.6" y="457.2" font-size="14" font-weight="bold" text-anchor="end" fill="#000" >1000</text>
<text x="449.6" y="423.7" font-size="14" font-weight="bold" text-anchor="end" fill="#000" >2000</text>
<text x="449.6" y="390.1" font-size="14" font-weight="bold" text-anchor="end" fill="#000" >3000</text>
<text x="449.6" y="356.6" font-size="14" font-weight="bold" text-anchor="end" fill="#000" >4000</text>
<text x="449.6" y="323.0" font-size="14" font-weight="bold" text-anchor="end" fill="#000" >5000</text>
<text x="457.1" y="520.8" font-size="14" font-weight="bold" text-anchor="middle" fill="#000" >0</text>
<text x="572.4" y="520.8" font-size="14" font-weight="bold" text-anchor="middle" fill="#000" >4</text>
<text x="687.7" y="520.8" font-size="14" font-weight="bold" text-anchor="middle" fill="#000" >8</text>
<text x="802.9" y="520.8" font-size="14" font-weight="bold" text-anchor="middle" fill="#000" >12</text>
<text x="918.2" y="520.8" font-size="14" font-weight="bold" text-anchor="middle" fill="#000" >16</text>
<text x="692.8" y="540.2" font-size="17.2" font-weight="bold" text-anchor="start" fill="#000" >Times (s)</text>
<g transform="translate(414.1,413.3) rotate(-90)">
<path d="M0.6 -0.5L5.46 -9.55L10.32 -0.5Z" fill="none" stroke="#000" stroke-width="0.95"/>
<text x="10.84" y="0" font-size="17.2" font-weight="bold" letter-spacing="0">I/I<tspan font-size="11.18" dy="3.78">0</tspan></text>
</g>
<text x="499.9" y="454.1" font-size="14" font-weight="bold" text-anchor="start" fill="#000" >+0.5kPa</text>
<text x="591.0" y="426.7" font-size="14" font-weight="bold" text-anchor="start" fill="#000" >+1kPa</text>
<text x="671.7" y="384.8" font-size="14" font-weight="bold" text-anchor="start" fill="#000" >+1.5kPa</text>
<text x="757.7" y="346.9" font-size="14" font-weight="bold" text-anchor="start" fill="#000" >+2kPa</text>
<text x="846.6" y="322.8" font-size="14" font-weight="bold" text-anchor="start" fill="#000" >+9kPa</text>
<text x="2.6" y="553.8" font-size="17.5" font-weight="bold" text-anchor="start" fill="#000" >f</text>
<defs><clipPath id="pc"><rect x="142.4" y="589.2" width="117.49999999999997" height="73.19999999999993"/></clipPath><linearGradient id="wall" x1="0" x2="1"><stop offset="0" stop-color="#c6c0ad"/><stop offset="0.45" stop-color="#dcd8cd"/><stop offset="1" stop-color="#c2bdb0"/></linearGradient><linearGradient id="tab" x1="0" x2="0" y1="0" y2="1"><stop offset="0" stop-color="#68686a"/><stop offset="0.4" stop-color="#58585a"/><stop offset="1" stop-color="#4b4b4d"/></linearGradient><linearGradient id="shd" x1="0" x2="1"><stop offset="0" stop-color="#2a2b30" stop-opacity="0"/><stop offset="0.5" stop-color="#25262b" stop-opacity="0.8"/><stop offset="1" stop-color="#1c1e26" stop-opacity="0.95"/></linearGradient></defs>
<g clip-path="url(#pc)">
<rect x="142.4" y="589.2" width="117.49999999999997" height="27.5" fill="url(#wall)"/>
<rect x="142.4" y="616.7" width="117.49999999999997" height="45.7" fill="url(#tab)"/>
<path d="M214.7 639.4L229.5 636.7L244.4 632.0L260.6 632.0V663.0H224.1Z" fill="url(#shd)"/>
<path d="M217.4 633.3L229.5 625.2L241.7 619.2L239.0 624.6L239.6 629.3L245.0 632.4L229.5 637.4L216.0 639.4Z" fill="#737375"/>
<ellipse cx="147.8" cy="619.2" rx="2.0" ry="0.7" fill="#161616"/>
<ellipse cx="162.0" cy="619.2" rx="2.0" ry="0.7" fill="#161616"/>
<ellipse cx="177.5" cy="619.2" rx="2.0" ry="0.7" fill="#161616"/>
<ellipse cx="192.4" cy="619.3" rx="2.0" ry="0.7" fill="#161616"/>
<ellipse cx="209.0" cy="619.3" rx="1.9" ry="0.7" fill="#161616"/>
<ellipse cx="153.9" cy="623.9" rx="2.2" ry="0.8" fill="#161616"/>
<ellipse cx="169.4" cy="624.0" rx="2.2" ry="0.8" fill="#161616"/>
<ellipse cx="186.3" cy="624.3" rx="2.2" ry="0.8" fill="#161616"/>
<ellipse cx="204.1" cy="624.6" rx="2.0" ry="0.8" fill="#161616"/>
<ellipse cx="143.8" cy="629.7" rx="1.8" ry="0.8" fill="#161616"/>
<ellipse cx="160.0" cy="630.2" rx="2.3" ry="0.9" fill="#161616"/>
<ellipse cx="178.9" cy="630.6" rx="2.3" ry="0.9" fill="#161616"/>
<ellipse cx="198.7" cy="631.3" rx="2.3" ry="0.9" fill="#161616"/>
<ellipse cx="220.3" cy="631.7" rx="2.0" ry="0.9" fill="#161616"/>
<ellipse cx="149.2" cy="637.4" rx="2.4" ry="1.1" fill="#161616"/>
<ellipse cx="169.4" cy="638.3" rx="2.4" ry="1.1" fill="#161616"/>
<ellipse cx="191.4" cy="639.1" rx="2.6" ry="1.1" fill="#161616"/>
<ellipse cx="214.7" cy="640.1" rx="2.4" ry="1.1" fill="#161616"/>
<ellipse cx="157.3" cy="648.2" rx="2.8" ry="1.4" fill="#161616"/>
<ellipse cx="182.0" cy="649.8" rx="3.0" ry="1.4" fill="#161616"/>
<ellipse cx="208.6" cy="651.6" rx="3.2" ry="1.5" fill="#161616"/>
<ellipse cx="241.7" cy="641.4" rx="3.2" ry="1.4" fill="#161616"/>
<ellipse cx="239.0" cy="654.0" rx="3.8" ry="1.5" fill="#161616"/>
<ellipse cx="143.4" cy="660.7" rx="1.4" ry="1.4" fill="#161616"/>
<ellipse cx="168.8" cy="662.4" rx="2.7" ry="0.8" fill="#161616"/>
<path d="M259.9 600.3L243.0 603.8L228.2 607.4L217.4 614.8L207.9 622.9L202.1 631.7L202.9 635.1L209.9 636.2L217.6 632.9L225.7 626.2L235.2 620.2L241.4 618.9L238.7 623.9L239.4 628.6L245.7 631.8L259.9 632.9Z" fill="#4a93ec"/>
<path d="M259.9 607.0L237.6 609.0L224.1 616.5L210.6 630.0L218.7 631.3L234.9 619.2L259.9 617.8Z" fill="#3f86e3" opacity="0.7"/>
<path d="M259.9 620.5L243.0 620.5L239.6 625.9L246.4 630.6L259.9 632.0Z" fill="#5aa2f2" opacity="0.8"/>
<path d="M202.1 633.3L197.4 639.1L202.5 640.2L204.1 635.6Z" fill="#c59a3c"/>
<path d="M199.5 637.4L197.9 639.1L201.8 639.9Z" fill="#b5482c"/>
</g>
<rect x="52.1" y="559.1" width="587.5" height="236.3" fill="none" stroke="#000" stroke-width="1.3"/>
<path d="M52.1 795.0h-4M52.1 716.5h-4M52.1 637.9h-4M52.1 559.1h-4" stroke="#000" stroke-width="1.3" fill="none"/>
<path d="M51.9 795.4v4M122.7 795.4v4M193.4 795.4v4M264.2 795.4v4M334.9 795.4v4M405.7 795.4v4M476.5 795.4v4M547.2 795.4v4M618.0 795.4v4" stroke="#000" stroke-width="1.4" fill="none"/>
<path d="M87.3 795.4v2.2M158.0 795.4v2.2M228.8 795.4v2.2M299.6 795.4v2.2M370.3 795.4v2.2M441.1 795.4v2.2M511.8 795.4v2.2M582.6 795.4v2.2" stroke="#000" stroke-width="1.4" fill="none"/>
<path d="M52.30 795.0V712.5H53.80V690.6H54.80V691.6H55.70V715.5H56.60V711.5H57.70V696.6H58.40V690.4H59.40V694.8H60.20V718.5H61.70V715.7H62.60V693.7H63.50V695.5H64.20V715.6H65.10V700.9H66.10V695.5H66.90V694.9H67.80V716.9H68.90V692.8H69.90V732.2H70.90V700.3H71.90V695.7H72.80V739.4H73.70V717.4H74.60V709.9H75.50V698.3H76.20V713.4H77.10V719.6H78.60V701.3H79.40V718.1H80.50V731.3H82.00V732.9H82.90V710.5H83.90V742.5H85.20V738.4H86.20V736.5H87.10V716.4H87.80V707.7H88.50V722.2H89.60V711.2H90.90V727.8H92.00V736.7H93.30V703.1H94.00V699.4H94.70V771.4H95.70V771.4H96.70V700.1H97.40V722.4H98.90V690.2H99.60V738.2H100.90V726.4H102.40V718.6H103.30V688.8H104.00V721.7H105.30V692.8H106.10V697.7H107.10V692.5H108.00V716.4H109.10V715.1H110.40V771.4H111.40V697.8H112.20V714.0H113.70V715.3H115.20V693.1H115.90V686.8H116.60V688.3H117.50V685.4H118.20V719.3H119.50V691.7H120.50V723.0H121.40V685.6H122.20V725.4H123.10V693.0H124.10V705.2H125.30V706.3H126.30V690.1H127.00V713.6H128.00V691.9H128.70V684.3H129.70V688.6H130.40V693.8H131.30V717.8H132.50V703.7H133.20V702.8H134.10V714.2H135.10V718.0H136.00V696.6H137.00V697.7H137.70V695.5H138.90V697.4H139.60V751.8H140.60V751.8H141.60V688.1H142.60V687.9H143.30V698.3H144.00V687.8H144.90V701.0H145.60V706.6H146.60V710.4H147.30V702.6H148.20V715.1H149.10V714.8H150.00V711.0H150.90V699.8H151.80V688.1H152.60V686.8H153.60V703.1H154.50V707.8H155.20V708.9H156.20V703.6H157.10V690.4H158.10V724.3H159.10V697.1H159.80V692.8H160.50V703.3H161.70V700.7H162.40V687.9H163.30V687.9H164.00V696.1H165.20V697.9H166.20V699.9H167.10V703.6H168.10V695.9H168.90V689.9H169.60V720.4H170.30V718.2H171.30V690.1H172.00V719.3H172.70V698.1H173.40V689.6H174.10V694.2H175.00V717.1H176.20V708.1H177.40V698.5H178.10V698.6H178.90V707.9H180.10V705.6H181.10V702.0H182.10V742.4H183.10V694.7H184.10V690.1H185.00V696.6H186.00V693.9H186.70V694.4H187.50V697.8H188.70V695.8H189.50V702.7H190.70V708.2H191.70V705.9H192.70V689.3H193.60V693.8H194.50V712.2H195.40V695.5H196.20V693.9H196.90V688.3H197.60V697.8H198.30V697.9H199.10V690.9H199.90V691.5H200.60V704.5H201.50V694.7H202.30V709.0H203.30V711.5H204.20V688.7H205.10V694.8H206.30V702.8H207.00V696.5H207.70V703.1H208.70V685.5H209.60V694.6H210.60V692.4H211.50V715.8H212.40V691.5H213.40V709.9H214.40V720.4H215.40V708.9H216.40V685.4H217.20V716.3H218.40V702.6H219.10V684.7H220.00V687.9H221.00V693.8H222.00V685.4H222.90V701.1H223.60V693.2H224.50V711.2H225.70V706.9H226.40V688.2H227.20V695.1H228.10V699.1H229.10V684.5H229.80V694.5H230.50V684.1H231.20V684.4H232.00V701.1H233.20V684.3H234.10V714.5H235.10V698.6H235.80V683.7H236.60V698.6H237.60V692.9H238.30V693.7H239.10V689.4H239.90V694.9H240.80V695.3H241.50V690.7H242.30V683.7H243.00V724.3H244.00V683.5H244.70V686.2H245.70V693.6H246.70V698.2H247.90V682.4H248.70V684.0H249.40V681.5H250.40V685.6H251.10V710.4H252.00V696.4H253.00V707.9H253.70V692.9H254.70V682.2H255.60V683.1H256.30V685.4H257.10V708.3H257.80V688.1H259.00V688.5H260.20V680.3H261.00V683.2H262.00V705.9H263.00V708.8H263.70V681.6H264.70V695.4H265.70V686.0H266.60V695.7H267.50V692.6H268.40V690.2H269.10V683.9H270.00V690.1H271.00V698.3H271.90V701.6H272.90V706.8H273.90V691.7H274.90V696.8H275.90V693.8H276.60V698.2H277.50V705.0H278.70V704.3H279.60V684.8H280.60V683.4H281.40V685.1H282.10V688.9H283.10V685.0H284.10V700.1H285.30V683.1H286.20V699.4H287.20V697.0H288.40V704.9H289.40V693.7H290.40V727.4H291.40V688.2H292.30V715.8H293.30V701.0H294.20V687.8H294.90V691.5H295.90V683.9H296.80V685.3H297.80V687.9H298.70V690.4H299.70V706.7H300.60V709.2H301.30V688.8H302.30V701.7H303.20V692.6H303.90V694.9H304.90V689.1H305.90V693.4H306.60V684.1H307.40V685.1H308.10V684.8H308.90V697.0H309.60V693.5H310.30V735.3H311.30V700.4H312.20V691.1H313.10V693.5H314.00V685.5H315.00V693.7H315.70V690.3H316.70V703.7H317.60V692.8H318.60V701.3H319.50V703.6H320.70V695.5H321.40V693.4H322.20V705.6H323.40V694.1H324.10V705.9H325.00V686.5H325.90V711.5H327.10V694.1H328.00V703.3H329.20V687.6H330.00V695.6H330.80V701.5H331.50V699.6H332.20V685.9H332.90V708.1H333.80V695.1H335.00V695.1H335.90V696.2H336.70V692.2H337.60V716.5H338.50V702.1H339.70V687.2H340.50V733.7H341.50V733.7H342.50V719.1H343.70V689.6H344.60V688.8H345.40V705.8H346.30V690.3H347.20V699.3H347.90V689.1H348.60V690.9H349.30V693.4H350.10V693.0H351.00V705.1H352.00V691.8H352.80V693.9H353.60V698.3H354.50V695.0H355.20V694.3H356.10V700.3H357.10V721.3H358.00V703.6H358.70V691.5H359.60V696.8H360.60V696.9H361.40V713.4H362.30V701.5H363.30V689.8H364.20V699.6H365.20V694.7H366.10V690.6H367.00V695.3H367.80V693.1H368.70V695.5H369.40V694.3H370.40V688.1H371.40V696.8H372.20V689.2H373.20V689.0H374.00V720.4H375.00V705.1H375.70V705.7H376.70V686.1H377.50V708.9H378.40V690.5H379.30V697.7H380.50V685.5H381.30V709.5H382.00V694.7H383.00V691.4H384.00V685.8H385.00V690.1H385.90V691.8H386.70V698.8H387.70V682.7H388.60V681.7H389.40V681.3H390.40V685.1H391.20V678.9H392.10V697.6H393.30V685.7H394.50V674.6H395.40V680.7H396.20V691.1H397.20V675.6H397.90V707.2H399.10V675.8H399.90V676.0H400.60V675.5H401.30V681.7H402.00V673.2H402.80V675.2H403.70V675.7H404.60V706.4H405.80V683.0H406.50V694.1H407.50V680.5H408.50V684.3H409.20V673.9H410.20V701.7H410.90V692.6H412.10V683.1H412.90V674.9H413.80V689.1H414.80V682.8H415.50V673.1H416.20V693.9H417.10V673.1H417.90V682.1H419.10V706.4H420.00V671.7H420.70V673.9H421.50V700.9H422.50V688.9H423.40V678.0H424.40V685.1H425.40V707.1H426.10V702.5H427.30V680.0H428.10V681.6H428.80V680.9H429.50V688.4H430.50V691.1H431.40V690.4H432.20V758.1H433.20V704.0H433.90V700.8H434.60V680.8H435.50V700.3H436.40V691.2H437.10V688.4H437.90V683.5H438.60V680.8H439.30V711.8H440.20V680.8H441.20V685.8H442.20V689.8H443.10V686.6H444.10V707.5H445.10V680.7H445.90V684.0H446.80V710.7H447.80V678.0H448.60V761.2H449.60V761.2H450.60V682.1H451.30V695.1H452.20V680.4H453.10V690.8H454.00V697.5H454.90V681.3H455.80V687.2H456.50V682.5H457.30V690.4H458.20V709.0H458.90V690.7H459.60V680.9H460.50V710.0H461.40V683.8H462.30V687.0H463.10V693.1H463.90V706.3H464.60V705.7H465.50V687.0H466.30V691.7H467.00V703.6H468.00V691.7H468.70V681.0H469.60V690.8H470.50V701.2H471.20V684.1H472.00V689.2H473.00V691.6H474.20V679.0H474.90V687.1H475.70V682.3H476.40V724.3H477.40V685.2H478.10V696.9H478.80V680.0H479.50V695.4H480.40V709.8H481.10V692.7H482.10V688.3H483.30V681.3H484.00V682.3H485.00V681.1H485.70V678.8H486.50V698.5H487.50V689.7H488.40V695.2H489.40V692.5H490.10V698.6H491.10V679.1H492.00V712.2H493.00V692.9H493.70V680.2H494.40V707.2H495.40V685.5H496.10V710.3H496.80V685.0H497.50V683.1H498.20V688.6H499.10V681.9H499.80V709.6H500.50V694.7H501.20V696.1H501.90V681.7H502.70V691.7H503.90V711.7H504.80V720.4H505.80V699.0H506.70V683.0H507.50V696.7H508.70V685.8H509.50V691.6H510.50V692.7H511.20V688.8H512.40V690.7H513.10V712.6H514.30V679.0H515.00V683.1H515.90V683.9H516.70V690.1H517.60V686.3H518.40V686.4H519.20V700.9H520.20V695.4H521.20V709.0H521.90V688.8H522.90V693.4H523.90V681.2H524.80V681.1H525.60V700.6H526.60V696.9H527.50V686.3H528.30V699.6H529.30V691.1H530.00V689.7H530.70V682.2H531.50V684.9H532.20V689.5H532.90V722.7H533.90V722.7H534.90V682.6H535.90V710.4H536.60V679.1H537.50V712.3H538.40V689.7H539.40V714.5H540.40V690.8H541.10V681.5H541.80V680.0H542.50V688.1H543.70V682.1H544.60V688.8H545.30V683.5H546.20V691.6H547.10V679.5H547.90V681.3H548.80V700.3H549.50V680.0H550.40V680.3H551.20V689.3H552.10V688.8H553.00V694.2H554.20V696.8H555.10V687.7H556.00V690.3H556.70V688.2H557.90V680.3H558.90V691.0H559.70V704.8H560.60V685.9H561.60V704.4H562.50V680.1H563.40V680.6H564.10V699.1H565.30V699.7H566.00V689.6H566.90V694.1H567.90V710.4H568.90V688.7H569.70V697.0H570.90V682.5H571.70V694.9H572.40V694.6H573.10V678.9H574.00V724.3H575.00V692.5H575.90V709.9H577.10V684.4H578.10V711.1H579.00V699.4H579.90V694.1H581.10V689.7H581.80V679.5H582.50V711.4H583.70V686.1H584.70V685.8H585.40V685.5H586.20V682.3H586.90V689.6H588.10V693.6H588.80V700.7H590.00V681.7H590.90V704.7H592.10V715.9H593.00V707.3H593.90V736.1H594.90V691.2H595.90V704.4H597.10V688.1H597.90V714.9H598.90V702.2H599.90V686.9H600.60V683.9H601.30V713.5H602.50V687.1H603.30V691.3H604.00V684.8H604.90V680.6H605.60V712.0H606.60V684.8H607.60V682.1H608.60V688.8H609.30V685.8H610.10V681.6H611.10V677.9H612.10V725.1H613.10V693.4H614.10V679.3H614.80V683.3H615.60V709.1H616.60V682.8H617.30V677.8H618.30V687.1H619.00V691.3H619.90V693.6H620.80V697.9H622.00V679.6H622.70V675.1H623.70V677.4H624.50V691.2H625.50V677.5H626.20V749.4H627.20V681.9H627.90V681.9H628.80V678.7H629.60V683.2H630.30V699.9H631.50V711.1H632.70V697.6H633.50V729.7H634.70V711.8H635.40V717.9H636.40V724.3H637.40V726.2H638.40V723.5H639.10V712.8H639.30V795.0Z" fill="#ebc468" stroke="none"/>
<path d="M55.8 795.2V779.6M73.2 795.2V787.6M63.8 795.2V785.8M60.9 795.2V783.3M65.0 795.2V789.9M54.7 795.2V782.4M69.7 795.2V781.7M67.7 795.2V791.6M74.4 795.2V787.5M79.7 795.2V787.7M78.8 795.2V781.9M67.3 795.2V785.7M78.4 795.2V779.7M72.2 795.2V790.6M55.3 795.2V786.0M69.0 795.2V786.3M54.6 795.2V788.2M65.7 795.2V791.2M54.3 795.2V785.0M58.5 795.2V787.3M59.8 795.2V783.0M58.0 795.2V784.6M67.8 795.2V785.1M64.7 795.2V786.8M75.2 795.2V784.0M76.5 795.2V784.2M59.6 795.2V791.5M78.5 795.2V783.9M54.7 795.2V789.5M54.6 795.2V791.1M88.7 795.2V780.9M90.1 795.2V779.3M91.5 795.2V787.1M628.6 795.2V787.1" stroke="#fff" stroke-width="0.8"/>
<path d="M52.1 787.1V795.4H639.6" stroke="#000" stroke-width="1.3" fill="none" opacity="0.85"/>
<path d="M52.1 755.7V787.1" stroke="#ebc468" stroke-width="1.3"/>
<text x="44.4" y="799.6" font-size="13.6" font-weight="bold" text-anchor="end" fill="#000" >0</text>
<text x="44.4" y="721.1" font-size="13.6" font-weight="bold" text-anchor="end" fill="#000" >1</text>
<text x="44.4" y="642.5" font-size="13.6" font-weight="bold" text-anchor="end" fill="#000" >2</text>
<text x="44.4" y="563.7" font-size="13.6" font-weight="bold" text-anchor="end" fill="#000" >3</text>
<text x="51.9" y="813.8" font-size="14" font-weight="bold" text-anchor="middle" fill="#000" >0</text>
<text x="122.7" y="813.8" font-size="14" font-weight="bold" text-anchor="middle" fill="#000" >100</text>
<text x="193.4" y="813.8" font-size="14" font-weight="bold" text-anchor="middle" fill="#000" >200</text>
<text x="264.2" y="813.8" font-size="14" font-weight="bold" text-anchor="middle" fill="#000" >300</text>
<text x="334.9" y="813.8" font-size="14" font-weight="bold" text-anchor="middle" fill="#000" >400</text>
<text x="405.7" y="813.8" font-size="14" font-weight="bold" text-anchor="middle" fill="#000" >500</text>
<text x="476.5" y="813.8" font-size="14" font-weight="bold" text-anchor="middle" fill="#000" >600</text>
<text x="547.2" y="813.8" font-size="14" font-weight="bold" text-anchor="middle" fill="#000" >700</text>
<text x="618.0" y="813.8" font-size="14" font-weight="bold" text-anchor="middle" fill="#000" >800</text>
<text x="345.5" y="829.6" font-size="18" font-weight="bold" text-anchor="middle" fill="#000" >Time (s)</text>
<g transform="translate(31.3,709.3) rotate(-90)">
<path d="M0.6 -0.5L6.2 -10.4L11.8 -0.5Z" fill="none" stroke="#000" stroke-width="1"/>
<text x="12.8" y="0" font-size="18.4" font-weight="bold">I (mA)</text></g>
<text x="326.7" y="633.2" font-size="19.35" font-weight="bold" text-anchor="start" fill="#000" >Repeating Finger Tap</text>
<text x="662.3" y="551.6" font-size="19" font-weight="bold" text-anchor="start" fill="#000" >g</text>
<path d="M833.7 664.9L899.1 694.9L880.7 780.9L785.3 782.8L770.7 695.7Z" fill="#e1e1e1" stroke="none"/>
<path d="M833.7 716.2L833.7 630.2" stroke="#777" stroke-width="0.8"/>
<path d="M833.7 716.2L915.5 689.6" stroke="#777" stroke-width="0.8"/>
<path d="M833.7 716.2L884.2 785.8" stroke="#777" stroke-width="0.8"/>
<path d="M833.7 716.2L783.2 785.8" stroke="#777" stroke-width="0.8"/>
<path d="M833.7 716.2L751.9 689.6" stroke="#777" stroke-width="0.8"/>
<path d="M833.7 630.2L915.5 689.6L884.2 785.8L783.2 785.8L751.9 689.6Z" fill="none" stroke="#555" stroke-width="1"/>
<path d="M833.7 667.2L896.7 695.7L851.9 741.2L795.3 769.1L768.3 694.9Z" fill="none" stroke="#5b5b5b" stroke-width="1.0" stroke-dasharray="4.6 2.6" opacity="0.85"/>
<circle cx="833.7" cy="667.2" r="1.5" fill="#5b5b5b"/>
<circle cx="896.7" cy="695.7" r="1.5" fill="#5b5b5b"/>
<circle cx="851.9" cy="741.2" r="1.5" fill="#5b5b5b"/>
<circle cx="795.3" cy="769.1" r="1.5" fill="#5b5b5b"/>
<circle cx="768.3" cy="694.9" r="1.5" fill="#5b5b5b"/>
<path d="M833.7 693.0L895.0 696.3L847.9 735.7L814.5 742.6L772.4 696.3Z" fill="none" stroke="#e03a32" stroke-width="1.0" stroke-dasharray="4.6 2.6" opacity="0.85"/>
<circle cx="833.7" cy="693.0" r="1.5" fill="#e03a32"/>
<circle cx="895.0" cy="696.3" r="1.5" fill="#e03a32"/>
<circle cx="847.9" cy="735.7" r="1.5" fill="#e03a32"/>
<circle cx="814.5" cy="742.6" r="1.5" fill="#e03a32"/>
<circle cx="772.4" cy="696.3" r="1.5" fill="#e03a32"/>
<path d="M833.7 693.0L895.9 696.0L846.8 734.3L814.5 742.6L776.4 697.6Z" fill="none" stroke="#2d62d8" stroke-width="1.0" stroke-dasharray="4.6 2.6" opacity="0.85"/>
<circle cx="833.7" cy="693.0" r="1.5" fill="#2d62d8"/>
<circle cx="895.9" cy="696.0" r="1.5" fill="#2d62d8"/>
<circle cx="846.8" cy="734.3" r="1.5" fill="#2d62d8"/>
<circle cx="814.5" cy="742.6" r="1.5" fill="#2d62d8"/>
<circle cx="776.4" cy="697.6" r="1.5" fill="#2d62d8"/>
<path d="M833.7 693.0L895.0 696.3L846.8 734.3L815.0 741.9L773.2 696.5Z" fill="none" stroke="#2fa374" stroke-width="1.0" stroke-dasharray="4.6 2.6" opacity="0.85"/>
<circle cx="833.7" cy="693.0" r="1.5" fill="#2fa374"/>
<circle cx="895.0" cy="696.3" r="1.5" fill="#2fa374"/>
<circle cx="846.8" cy="734.3" r="1.5" fill="#2fa374"/>
<circle cx="815.0" cy="741.9" r="1.5" fill="#2fa374"/>
<circle cx="773.2" cy="696.5" r="1.5" fill="#2fa374"/>
<path d="M833.7 693.8L894.2 696.5L847.3 735.0L821.1 733.6L778.1 698.1Z" fill="none" stroke="#9263d6" stroke-width="1.0" stroke-dasharray="4.6 2.6" opacity="0.85"/>
<circle cx="833.7" cy="693.8" r="1.5" fill="#9263d6"/>
<circle cx="894.2" cy="696.5" r="1.5" fill="#9263d6"/>
<circle cx="847.3" cy="735.0" r="1.5" fill="#9263d6"/>
<circle cx="821.1" cy="733.6" r="1.5" fill="#9263d6"/>
<circle cx="778.1" cy="698.1" r="1.5" fill="#9263d6"/>
<path d="M833.7 693.0L895.9 696.0L854.9 745.4L813.5 744.0L774.8 697.1Z" fill="none" stroke="#c9921f" stroke-width="1.0" stroke-dasharray="4.6 2.6" opacity="0.85"/>
<circle cx="833.7" cy="693.0" r="1.5" fill="#c9921f"/>
<circle cx="895.9" cy="696.0" r="1.5" fill="#c9921f"/>
<circle cx="854.9" cy="745.4" r="1.5" fill="#c9921f"/>
<circle cx="813.5" cy="744.0" r="1.5" fill="#c9921f"/>
<circle cx="774.8" cy="697.1" r="1.5" fill="#c9921f"/>
<path d="M833.7 688.7L896.7 695.7L859.0 751.0L793.3 771.9L772.4 696.3Z" fill="none" stroke="#26c2c4" stroke-width="1.0" stroke-dasharray="4.6 2.6" opacity="0.85"/>
<circle cx="833.7" cy="688.7" r="1.5" fill="#26c2c4"/>
<circle cx="896.7" cy="695.7" r="1.5" fill="#26c2c4"/>
<circle cx="859.0" cy="751.0" r="1.5" fill="#26c2c4"/>
<circle cx="793.3" cy="771.9" r="1.5" fill="#26c2c4"/>
<circle cx="772.4" cy="696.3" r="1.5" fill="#26c2c4"/>
<path d="M833.7 666.8L896.7 695.7L849.9 738.5L817.0 739.2L762.1 692.9Z" fill="none" stroke="#7a4346" stroke-width="1.0" stroke-dasharray="4.6 2.6" opacity="0.85"/>
<circle cx="833.7" cy="666.8" r="1.5" fill="#7a4346"/>
<circle cx="896.7" cy="695.7" r="1.5" fill="#7a4346"/>
<circle cx="849.9" cy="738.5" r="1.5" fill="#7a4346"/>
<circle cx="817.0" cy="739.2" r="1.5" fill="#7a4346"/>
<circle cx="762.1" cy="692.9" r="1.5" fill="#7a4346"/>
<path d="M833.7 631.9L914.3 690.0L878.7 778.1L797.3 766.3L769.9 695.5Z" fill="none" stroke="#8f8f1f" stroke-width="1.3" stroke-dasharray="4.6 2.6" opacity="0.85"/>
<path d="M833.7 693.8L893.4 696.8L848.9 737.1L818.5 737.1L775.6 697.3Z" fill="none" stroke="#86b9ea" stroke-width="1.0" stroke-dasharray="4.6 2.6" opacity="0.85"/>
<circle cx="833.7" cy="693.8" r="1.5" fill="#86b9ea"/>
<circle cx="893.4" cy="696.8" r="1.5" fill="#86b9ea"/>
<circle cx="848.9" cy="737.1" r="1.5" fill="#86b9ea"/>
<circle cx="818.5" cy="737.1" r="1.5" fill="#86b9ea"/>
<circle cx="775.6" cy="697.3" r="1.5" fill="#86b9ea"/>
<path d="M833.7 664.9L899.1 694.9L880.7 780.9L785.3 782.8L770.7 695.7Z" fill="none" stroke="#f47a3c" stroke-width="1.5" stroke-dasharray="5 2.5"/>
<circle cx="833.7" cy="664.9" r="1.6" fill="#f4622a"/>
<circle cx="899.1" cy="694.9" r="1.6" fill="#f4622a"/>
<circle cx="880.7" cy="780.9" r="1.6" fill="#f4622a"/>
<circle cx="785.3" cy="782.8" r="1.6" fill="#f4622a"/>
<circle cx="770.7" cy="695.7" r="1.6" fill="#f4622a"/>
<text x="836.7" y="626.8" font-size="11.7" font-weight="bold" text-anchor="middle" fill="#000" >Sensitivity I</text>
<text x="920.8" y="696.0" font-size="11.7" font-weight="bold" text-anchor="start" fill="#000" >Sensitivity II</text>
<text x="747.6" y="693.8" font-size="11.7" font-weight="bold" text-anchor="end" fill="#000" >1/Response time</text>
<text x="802.6" y="799.6" font-size="11.7" font-weight="bold" text-anchor="end" fill="#000" >1/Detection limit</text>
<text x="867.4" y="800.4" font-size="11.7" font-weight="bold" text-anchor="start" fill="#000" >Linear range</text>
<path d="M899.2 555.5h10.2" stroke="#5b5b5b" stroke-width="1.2" stroke-dasharray="3.6 1.2 1.6 1.2"/>
<circle cx="904.3" cy="555.5" r="1.4" fill="#5b5b5b"/>
<text x="912.8" y="558.3" font-size="8.5" font-weight="normal" text-anchor="start" fill="#0a0a0a" >APPy/PDMS</text>
<path d="M899.2 566.1h10.2" stroke="#e03a32" stroke-width="1.2" stroke-dasharray="3.6 1.2 1.6 1.2"/>
<circle cx="904.3" cy="566.1" r="1.4" fill="#e03a32"/>
<text x="912.8" y="568.9" font-size="8.5" font-weight="normal" text-anchor="start" fill="#0a0a0a" >BMXene-FPDMS</text>
<path d="M899.2 576.7h10.2" stroke="#2d62d8" stroke-width="1.2" stroke-dasharray="3.6 1.2 1.6 1.2"/>
<circle cx="904.3" cy="576.7" r="1.4" fill="#2d62d8"/>
<text x="912.8" y="579.5" font-size="8.5" font-weight="normal" text-anchor="start" fill="#0a0a0a" >LBG/PVA/CNTs-DR</text>
<path d="M899.2 587.2h10.2" stroke="#2fa374" stroke-width="1.2" stroke-dasharray="3.6 1.2 1.6 1.2"/>
<circle cx="904.3" cy="587.2" r="1.4" fill="#2fa374"/>
<text x="912.8" y="590.0" font-size="8.5" font-weight="normal" text-anchor="start" fill="#0a0a0a" >PEDOT:PSS/PDMS</text>
<path d="M899.2 597.8h10.2" stroke="#9263d6" stroke-width="1.2" stroke-dasharray="3.6 1.2 1.6 1.2"/>
<circle cx="904.3" cy="597.8" r="1.4" fill="#9263d6"/>
<text x="912.8" y="600.6" font-size="8.5" font-weight="normal" text-anchor="start" fill="#0a0a0a" >MXene/PEDOT:PSS</text>
<text x="919.9" y="611.2" font-size="8.5" font-weight="normal" text-anchor="start" fill="#0a0a0a" >Composite Aerogel</text>
<path d="M899.2 619.0h10.2" stroke="#c9921f" stroke-width="1.2" stroke-dasharray="3.6 1.2 1.6 1.2"/>
<circle cx="904.3" cy="619.0" r="1.4" fill="#c9921f"/>
<text x="912.8" y="621.8" font-size="8.5" font-weight="normal" text-anchor="start" fill="#0a0a0a" >AgNWs/GR/PANF</text>
<path d="M899.2 629.6h10.2" stroke="#26c2c4" stroke-width="1.2" stroke-dasharray="3.6 1.2 1.6 1.2"/>
<circle cx="904.3" cy="629.6" r="1.4" fill="#26c2c4"/>
<text x="912.8" y="632.4" font-size="8.5" font-weight="normal" text-anchor="start" fill="#0a0a0a" >PVDF/PDA/PPy</text>
<path d="M899.2 640.1h10.2" stroke="#7a4346" stroke-width="1.2" stroke-dasharray="3.6 1.2 1.6 1.2"/>
<circle cx="904.3" cy="640.1" r="1.4" fill="#7a4346"/>
<text x="912.8" y="642.9" font-size="8.5" font-weight="normal" text-anchor="start" fill="#0a0a0a" >PEDOT:PSS/PDMS</text>
<path d="M899.2 650.7h10.2" stroke="#8f8f1f" stroke-width="1.2" stroke-dasharray="3.6 1.2 1.6 1.2"/>
<text x="912.8" y="653.5" font-size="8.5" font-weight="normal" text-anchor="start" fill="#0a0a0a" >MXene/silver nanowires</text>
<path d="M899.2 661.3h10.2" stroke="#86b9ea" stroke-width="1.2" stroke-dasharray="3.6 1.2 1.6 1.2"/>
<text x="912.8" y="664.1" font-size="8.5" font-weight="normal" text-anchor="start" fill="#0a0a0a" >MXene/Bacterial</text>
<rect x="899.1" y="668.7" width="9.7" height="6.3" fill="#dadada" stroke="#c8c8c8" stroke-width="0.4"/>
<text x="912.8" y="674.7" font-size="8.5" font-weight="normal" text-anchor="start" fill="#0a0a0a" >This work</text>
</svg>
</body></html>
